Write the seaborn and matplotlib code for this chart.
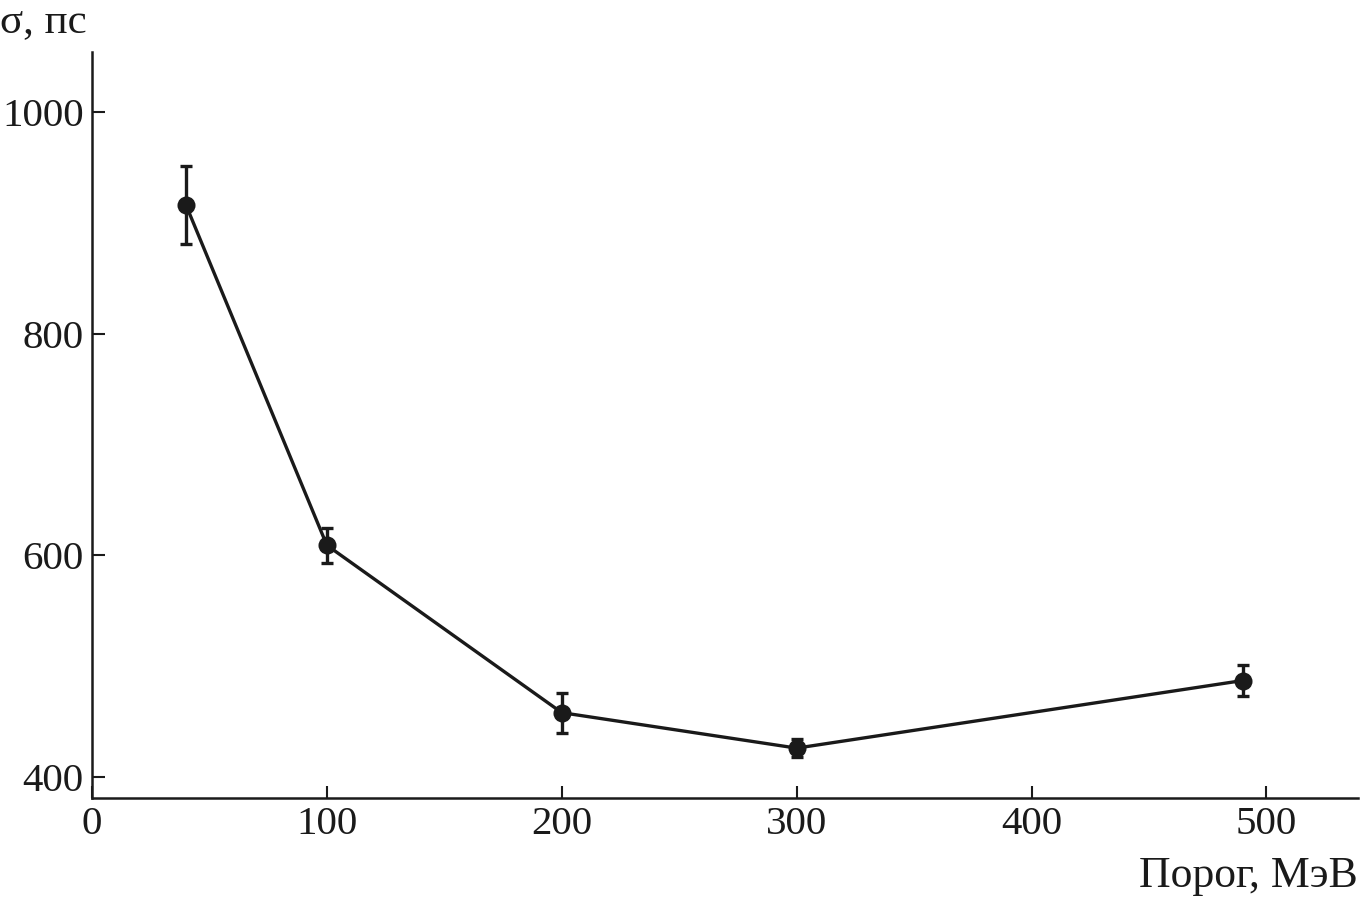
import matplotlib
matplotlib.use("Agg")
import matplotlib.pyplot as plt
import seaborn as sns
import pandas as pd

# data
threshold = [40, 100, 200, 300, 490]
sigma = [916, 609, 458, 426, 487]
sigma_err = [35, 16, 18, 8, 14]

df = pd.DataFrame({"threshold": threshold, "sigma": sigma, "err": sigma_err})

sns.set_theme(style="ticks")
plt.rcParams["font.family"] = ["Liberation Serif", "DejaVu Serif"]

fig = plt.figure(figsize=(13.61, 9.01), dpi=100)
ax = fig.add_axes([92 / 1361, 103 / 901, (1358 - 92) / 1361, (849 - 103) / 901])

color = "#1a1a1a"
sns.lineplot(data=df, x="threshold", y="sigma", ax=ax, color=color,
             linewidth=2.4, marker="o", markersize=13, markeredgewidth=0)
ax.errorbar(df["threshold"], df["sigma"], yerr=df["err"], fmt="none",
            ecolor=color, elinewidth=2.4, capsize=4, capthick=2.4)

ax.set_xlim(0, 539)
ax.set_ylim(381, 1054)
ax.set_xticks([0, 100, 200, 300, 400, 500])
ax.set_yticks([400, 600, 800, 1000])
ax.tick_params(direction="in", length=9, width=1.5, labelsize=29.5,
               color=color, labelcolor=color, pad=6)
for s in ["top", "right"]:
    ax.spines[s].set_visible(False)
for s in ["left", "bottom"]:
    ax.spines[s].set_linewidth(1.8)
    ax.spines[s].set_color(color)

ax.set_xlabel("")
ax.set_ylabel("")
fig.text(1358 / 1361, (901 - 876) / 901, "Порог, МэВ", ha="right", va="center",
         fontsize=31.5, color=color)
fig.text(0, (901 - 22) / 901, "σ, пс", ha="left", va="center",
         fontsize=31, color=color)

fig.savefig("out.png", dpi=100)
